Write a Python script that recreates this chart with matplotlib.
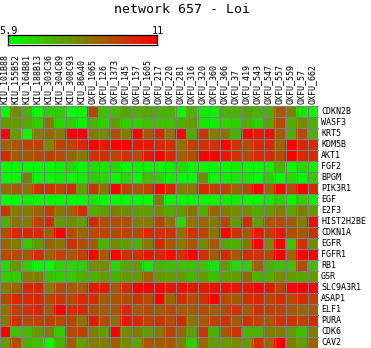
import matplotlib
matplotlib.use("Agg")
import matplotlib.pyplot as plt
import numpy as np
from matplotlib.colors import LinearSegmentedColormap

samples = ["KIU_101B88", "KIU_155B52", "KIU_164B81", "KIU_188B13", "KIU_303C36",
           "KIU_304C89", "KIU_308C93", "KIU_86A40", "OXFU_1065", "OXFU_126",
           "OXFU_1373", "OXFU_145", "OXFU_157", "OXFU_1605", "OXFU_217",
           "OXFU_220", "OXFU_281", "OXFU_316", "OXFU_320", "OXFU_360",
           "OXFU_366", "OXFU_37", "OXFU_419", "OXFU_543", "OXFU_547",
           "OXFU_557", "OXFU_559", "OXFU_57", "OXFU_662"]

genes = ["CDKN2B", "WASF3", "KRT5", "KDM5B", "AKT1", "FGF2", "BPGM", "PIK3R1",
         "EGF", "E2F3", "HIST2H2BE", "CDKN1A", "EGFR", "FGFR1", "RB1", "GSR",
         "SLC9A3R1", "ASAP1", "ELF1", "PURA", "CDK6", "CAV2"]

# expression level per gene (rows) and sample (columns)
expr = [
    [5.9, 8.2, 7.4, 6.0, 6.9, 6.9, 5.9, 6.0, 9.7, 7.2, 7.2, 7.7, 7.4, 7.7, 7.4, 7.4, 6.0, 7.4, 6.2, 6.2, 7.4, 7.4, 7.7, 7.4, 7.4, 9.2, 8.5, 6.4, 6.0],
    [7.9, 7.9, 7.7, 6.9, 8.7, 6.7, 6.9, 6.2, 7.4, 6.9, 7.9, 6.9, 6.9, 7.2, 7.2, 7.2, 7.4, 7.9, 6.4, 6.2, 6.7, 6.9, 7.4, 6.9, 7.7, 9.5, 7.4, 8.2, 7.4],
    [11.0, 7.9, 6.0, 8.5, 9.0, 8.5, 11.0, 11.0, 8.5, 8.2, 9.5, 8.5, 11.0, 9.2, 10.2, 8.7, 11.0, 7.7, 10.0, 8.5, 8.7, 7.4, 11.0, 10.5, 10.7, 9.2, 7.4, 9.5, 7.4],
    [9.0, 9.2, 9.7, 9.7, 8.2, 9.7, 9.7, 10.2, 11.0, 10.5, 11.0, 11.0, 10.5, 10.5, 10.2, 10.0, 8.7, 9.7, 10.0, 10.0, 11.0, 10.0, 9.5, 10.2, 10.2, 9.0, 11.0, 10.2, 10.2],
    [10.2, 9.2, 9.2, 9.5, 9.7, 9.5, 9.0, 8.5, 10.0, 10.0, 9.7, 10.0, 9.5, 10.5, 11.0, 10.2, 9.0, 9.5, 11.0, 11.0, 10.5, 10.0, 9.5, 10.2, 10.2, 9.5, 11.0, 10.2, 10.2],
    [5.9, 6.0, 6.0, 5.9, 5.9, 6.2, 6.7, 6.0, 6.7, 6.4, 6.7, 6.0, 6.2, 6.2, 6.0, 6.2, 6.7, 6.2, 6.0, 6.0, 6.0, 6.2, 6.0, 6.0, 6.2, 7.4, 6.0, 6.7, 6.2],
    [6.0, 6.0, 8.5, 6.0, 6.0, 6.2, 6.0, 6.2, 6.9, 6.7, 6.0, 6.7, 6.0, 7.2, 6.9, 6.2, 6.0, 6.0, 8.2, 6.0, 6.2, 6.4, 6.4, 6.0, 6.9, 6.0, 6.7, 6.0, 6.9],
    [8.7, 9.2, 8.7, 10.0, 10.0, 9.7, 10.2, 7.9, 10.0, 8.7, 11.0, 9.7, 9.2, 9.7, 11.0, 10.2, 8.5, 8.7, 10.2, 9.7, 9.7, 9.0, 9.5, 11.0, 9.0, 11.0, 9.5, 11.0, 10.2],
    [5.9, 5.9, 6.2, 5.9, 5.9, 5.9, 5.9, 5.9, 6.4, 5.9, 5.9, 5.9, 5.9, 5.9, 8.5, 6.0, 6.0, 6.0, 6.0, 6.0, 6.2, 6.2, 6.0, 6.0, 6.4, 6.9, 6.0, 6.9, 6.2],
    [10.0, 8.5, 8.5, 9.0, 9.7, 8.7, 9.0, 10.0, 7.4, 7.9, 8.5, 8.2, 7.9, 7.9, 8.2, 7.7, 7.9, 8.7, 7.4, 9.0, 8.5, 8.2, 8.2, 7.7, 7.9, 8.5, 7.7, 8.5, 7.9],
    [7.4, 8.7, 8.5, 9.7, 10.2, 7.9, 8.2, 7.9, 10.2, 9.5, 9.5, 9.5, 8.5, 8.5, 9.7, 8.7, 6.7, 8.7, 9.0, 8.5, 9.7, 7.9, 10.2, 7.9, 9.2, 9.5, 9.2, 8.5, 11.0],
    [9.5, 10.2, 10.2, 10.2, 9.2, 11.0, 9.5, 9.0, 9.5, 9.7, 9.5, 9.7, 9.5, 10.2, 10.0, 10.0, 8.7, 10.0, 9.7, 8.7, 11.0, 10.0, 9.2, 10.5, 9.7, 10.5, 9.5, 9.2, 10.0],
    [9.0, 8.5, 6.9, 7.9, 9.0, 8.7, 10.0, 9.5, 9.2, 7.4, 8.2, 7.9, 7.4, 8.5, 10.2, 9.2, 8.5, 9.2, 8.2, 9.2, 7.7, 7.4, 8.5, 11.0, 8.2, 11.0, 6.9, 10.0, 8.2],
    [9.5, 9.5, 9.2, 10.0, 9.0, 9.7, 9.2, 9.7, 11.0, 9.2, 11.0, 10.0, 10.0, 10.5, 10.2, 10.7, 10.0, 11.0, 10.0, 9.2, 10.2, 9.2, 10.0, 10.0, 9.5, 11.0, 9.0, 11.0, 11.0],
    [6.7, 7.9, 6.9, 6.0, 5.9, 6.7, 6.7, 6.9, 8.2, 8.2, 6.7, 7.7, 7.9, 6.4, 7.4, 7.2, 7.2, 7.2, 7.2, 6.4, 7.9, 6.7, 6.9, 9.0, 7.4, 7.2, 7.2, 9.5, 7.2],
    [6.9, 6.9, 8.5, 8.5, 7.2, 6.9, 6.9, 7.4, 7.4, 7.9, 7.4, 7.9, 7.9, 9.0, 7.9, 7.9, 7.9, 7.4, 7.9, 7.2, 7.7, 7.9, 9.0, 7.4, 7.4, 8.2, 7.9, 7.7, 7.9],
    [8.5, 9.0, 10.2, 10.2, 8.5, 9.5, 9.2, 9.2, 10.5, 10.5, 9.2, 10.2, 11.0, 11.0, 11.0, 10.5, 10.7, 10.5, 10.5, 10.7, 10.7, 10.5, 10.5, 11.0, 10.5, 9.7, 11.0, 11.0, 11.0],
    [9.5, 10.2, 10.2, 10.2, 9.5, 10.0, 9.5, 10.2, 10.2, 9.2, 9.2, 9.5, 10.0, 9.5, 11.0, 9.0, 10.2, 9.5, 10.0, 11.0, 9.5, 9.2, 10.0, 10.2, 9.5, 10.0, 9.5, 10.2, 9.7],
    [8.7, 9.7, 10.0, 10.2, 9.2, 11.0, 10.0, 10.2, 9.5, 9.2, 9.2, 10.2, 9.2, 9.5, 9.2, 9.5, 9.2, 9.2, 9.5, 9.2, 9.5, 10.0, 9.2, 10.0, 9.7, 9.7, 9.2, 9.0, 9.2],
    [8.5, 10.0, 9.5, 9.7, 9.7, 9.5, 9.7, 8.7, 10.5, 9.5, 8.7, 10.5, 10.2, 9.7, 10.0, 9.5, 10.2, 8.7, 9.2, 9.7, 10.0, 9.2, 10.0, 9.7, 9.2, 10.0, 10.0, 9.7, 10.2],
    [11.0, 7.2, 7.2, 7.9, 8.5, 6.9, 9.5, 9.7, 8.5, 7.9, 11.0, 8.2, 8.5, 7.9, 8.5, 9.7, 9.0, 7.9, 10.0, 7.4, 9.2, 10.0, 7.4, 7.4, 8.5, 8.5, 7.9, 7.2, 8.5],
    [7.9, 9.5, 7.4, 7.2, 6.0, 7.4, 9.2, 7.9, 8.5, 8.5, 9.2, 8.2, 7.7, 9.2, 9.2, 9.2, 8.5, 6.9, 9.0, 7.9, 7.9, 8.2, 7.9, 10.0, 9.0, 11.0, 8.5, 7.9, 9.0],
]

vmin, vmax = 5.9, 11.0
title = "network 657 - Loi"

W, H = 371, 348
fig = plt.figure(figsize=(W / 100, H / 100), dpi=100)
fig.patch.set_facecolor("white")

mono = "DejaVu Sans Mono"
cmap = LinearSegmentedColormap.from_list("gr", [(0, 1, 0), (0.5, 0.5, 0), (1, 0, 0)])


def fx(px):
    return px / W


def fy(py):
    return 1 - py / H


# heatmap cells
ncol, nrow = len(samples), len(genes)
cell = 11
left_px, top_px = -0.5, 105.5
ax = fig.add_axes([fx(left_px), fy(top_px + nrow * cell), ncol * cell / W, nrow * cell / H])
data = np.array(expr)
ax.imshow(data, cmap=cmap, vmin=vmin, vmax=vmax, interpolation="nearest",
          aspect="auto", extent=[0, ncol, nrow, 0])
# thin grey separators between cells
grid_kw = dict(colors="#808080", linewidth=0.72, antialiased=False)
ax.vlines(np.arange(ncol + 1), 0, nrow, **grid_kw)
ax.hlines(np.arange(nrow + 1), 0, ncol, **grid_kw)
ax.set_xlim(0, ncol)
ax.set_ylim(nrow, 0)
ax.axis("off")

# sample labels (vertical, above the grid)
for c, name in enumerate(samples):
    fig.text(fx(11 * c + 6.3), fy(104), name, rotation=90, rotation_mode="anchor",
             ha="left", va="baseline", fontsize=6.0, family=mono)

# gene labels (right of the grid)
for r, name in enumerate(genes):
    fig.text(fx(321), fy(113.8 + 11 * r), name, ha="left", va="baseline",
             fontsize=6.0, family=mono)

# title
fig.text(fx(181.7), fy(13), title, ha="center", va="baseline", fontsize=9.5, family=mono)

# colour scale bar
cax = fig.add_axes([fx(8), fy(44.5), 148.5 / W, 9.5 / H])
cax.imshow(np.linspace(vmin, vmax, 256)[None, :], aspect="auto", cmap=cmap,
           vmin=vmin, vmax=vmax, extent=[vmin, vmax, 0, 1])
cax.set_xticks([])
cax.set_yticks([])
for s in cax.spines.values():
    s.set_color("black")
    s.set_linewidth(0.9)
fig.text(fx(8), fy(33.5), f"{vmin:g}", ha="center", va="baseline", fontsize=7.4, family=mono)
fig.text(fx(157.5), fy(33.5), f"{vmax:g}", ha="center", va="baseline", fontsize=7.4, family=mono)

fig.savefig("out.png", dpi=100)
